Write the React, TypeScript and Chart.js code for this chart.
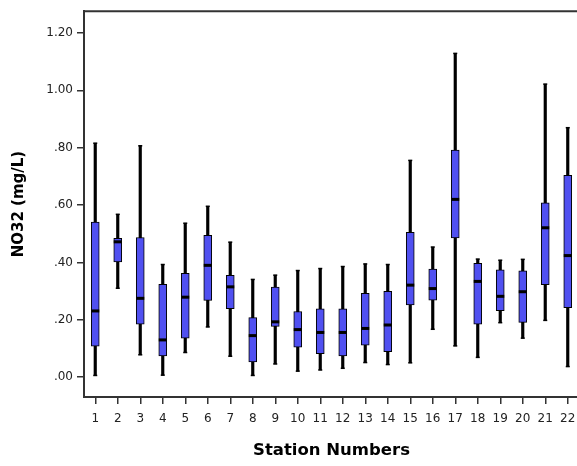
import React, { useEffect, useRef } from 'react';
import { Chart, registerables } from 'chart.js';

Chart.register(...registerables);

const stations = ['1', '2', '3', '4', '5', '6', '7', '8', '9', '10', '11', '12', '13', '14', '15', '16', '17', '18', '19', '20', '21', '22'];
const whiskerLow = [0.007, 0.311, 0.079, 0.008, 0.087, 0.176, 0.074, 0.007, 0.047, 0.022, 0.026, 0.032, 0.052, 0.045, 0.051, 0.168, 0.110, 0.070, 0.191, 0.137, 0.199, 0.038];
const q1 = [0.108, 0.402, 0.185, 0.074, 0.136, 0.268, 0.239, 0.053, 0.177, 0.105, 0.082, 0.074, 0.112, 0.089, 0.252, 0.269, 0.486, 0.185, 0.232, 0.191, 0.323, 0.242];
const median = [0.231, 0.472, 0.275, 0.130, 0.279, 0.390, 0.315, 0.145, 0.193, 0.166, 0.156, 0.156, 0.170, 0.182, 0.321, 0.309, 0.620, 0.334, 0.282, 0.298, 0.521, 0.424];
const q3 = [0.541, 0.484, 0.487, 0.324, 0.362, 0.495, 0.355, 0.208, 0.314, 0.229, 0.238, 0.238, 0.292, 0.299, 0.505, 0.377, 0.792, 0.397, 0.374, 0.371, 0.608, 0.704];
const whiskerHigh = [0.815, 0.567, 0.806, 0.392, 0.536, 0.595, 0.470, 0.340, 0.355, 0.371, 0.378, 0.385, 0.394, 0.392, 0.755, 0.453, 1.128, 0.411, 0.407, 0.410, 1.021, 0.869];
const yTicks = [0, 0.2, 0.4, 0.6, 0.8, 1.0, 1.2];

const FONT = "'DejaVu Sans', Verdana, sans-serif";

const fmtTick = (v: number) => {
  const s = Number(v).toFixed(2);
  return v < 1 ? s.replace(/^0/, '') : s;
};

const boxExtras = {
  id: 'boxExtras',
  afterDatasetsDraw(chart: any) {
    const { ctx, scales } = chart;
    const x = scales.x;
    const y = scales.y;
    ctx.save();
    ctx.fillStyle = '#000';
    stations.forEach((_, i) => {
      const cx = x.getPixelForValue(i);
      const ym = y.getPixelForValue(median[i]);
      ctx.fillRect(cx - 4, ym - 1.5, 8, 3);
      const yl = y.getPixelForValue(whiskerLow[i]);
      const yh = y.getPixelForValue(whiskerHigh[i]);
      ctx.fillRect(cx - 2, yl - 0.5, 4, 1.5);
      ctx.fillRect(cx - 2, yh - 1, 4, 1.5);
    });
    ctx.restore();
  },
  afterDraw(chart: any) {
    const { ctx, chartArea } = chart;
    ctx.save();
    ctx.strokeStyle = '#333';
    ctx.lineWidth = 2;
    ctx.beginPath();
    ctx.moveTo(chartArea.left, chartArea.top);
    ctx.lineTo(chartArea.right + 20, chartArea.top);
    ctx.stroke();
    ctx.restore();
  },
};

export default function App() {
  const ref = useRef<HTMLCanvasElement | null>(null);
  useEffect(() => {
    if (!ref.current) return;
    const chart = new Chart(ref.current, {
      type: 'bar',
      data: {
        labels: stations,
        datasets: [
          {
            label: 'box',
            data: stations.map((_, i) => [q1[i], q3[i]]) as any,
            backgroundColor: 'rgb(80,80,240)',
            borderColor: '#000',
            borderWidth: 1,
            borderSkipped: false,
            barThickness: 8,
            grouped: false,
          },
          {
            label: 'whisker',
            data: stations.map((_, i) => [whiskerLow[i], whiskerHigh[i]]) as any,
            backgroundColor: '#000',
            borderWidth: 0,
            barThickness: 2.5,
            grouped: false,
          },
        ],
      },
      options: {
        animation: false,
        responsive: false,
        devicePixelRatio: 1,
        layout: { padding: { left: 0, top: 7, right: 11, bottom: 0 } },
        plugins: { legend: { display: false }, tooltip: { enabled: false } },
        scales: {
          x: {
            type: 'category',
            offset: true,
            afterFit: (s: any) => { s.height = 69; },
            grid: { display: true, drawOnChartArea: false, drawTicks: true, tickLength: 7, color: '#333', lineWidth: 1.5, offset: false },
            border: { display: true, color: '#333', width: 2 },
            ticks: { color: '#222', font: { family: FONT, size: 12 }, padding: 8, autoSkip: false, maxRotation: 0 },
            title: { display: true, text: 'Station Numbers', color: '#000', font: { family: FONT, size: 16.5, weight: 'bold' }, padding: { top: 0, bottom: 5 } },
          },
          y: {
            min: -0.069,
            max: 1.276,
            afterBuildTicks: (s: any) => { s.ticks = yTicks.map((v) => ({ value: v })); },
            afterFit: (s: any) => { s.width = 84; },
            grid: { display: true, drawOnChartArea: false, drawTicks: true, tickLength: 7, color: '#333', lineWidth: 1.5 },
            border: { display: true, color: '#333', width: 2 },
            ticks: { color: '#222', font: { family: FONT, size: 12 }, padding: 4, callback: (v: any) => fmtTick(Number(v)) },
            title: { display: true, text: 'NO32 (mg/L)', color: '#000', font: { family: FONT, size: 15, weight: 'bold' }, padding: { top: 10, bottom: 0 } },
          },
        },
      },
      plugins: [boxExtras],
    } as any);
    return () => chart.destroy();
  }, []);
  return (
    <div style={{ position: 'fixed', left: 0, top: 0, width: 577, height: 466, overflow: 'hidden', background: '#fff' }}>
      <canvas ref={ref} width={590} height={466} style={{ display: 'block' }} />
    </div>
  );
}
